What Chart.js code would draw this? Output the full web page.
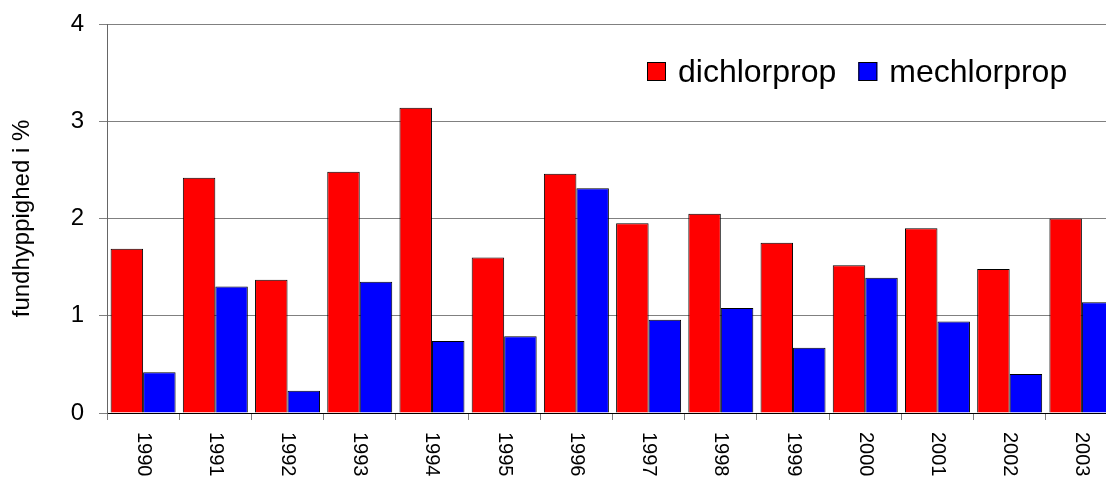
<!DOCTYPE html>
<html>
<head>
<meta charset="utf-8">
<script src="https://cdn.jsdelivr.net/npm/chart.js@4"></script>
<style>
    html, body { margin: 0; padding: 0; background: #fff; overflow: hidden; }
    #wrap { width: 1120px; height: 480px; }
</style>
</head>
<body>
<div id="wrap"><canvas id="plot" width="1120" height="480"></canvas></div>
<script>
'use strict';

// Years on the x axis
const YEARS = [
    "1990", "1991", "1992", "1993", "1994", "1995", "1996",
    "1997", "1998", "1999", "2000", "2001", "2002", "2003"
];

// Detection frequency in %
const DICHLORPROP = [1.69, 2.42, 1.37, 2.48, 3.14, 1.60, 2.46, 1.95, 2.05, 1.75, 1.52, 1.90, 1.48, 2.00];
const MECHLORPROP = [0.42, 1.30, 0.23, 1.35, 0.74, 0.79, 2.31, 0.96, 1.08, 0.67, 1.39, 0.94, 0.40, 1.14];

const Y_TICKS = [0, 1, 2, 3, 4];

const FONT = '"Liberation Sans", Arial, sans-serif';

// Rotated year labels, reading top to bottom
const yearLabels = {
    id: 'yearLabels',
    afterDraw(chart) {
        const ctx = chart.ctx;
        const xs = chart.scales.x;
        ctx.save();
        ctx.font = '20px ' + FONT;
        ctx.fillStyle = '#000';
        ctx.textAlign = 'left';
        ctx.textBaseline = 'middle';
        YEARS.forEach((year, i) => {
            ctx.save();
            ctx.translate(xs.getPixelForValue(i), xs.top + 19);
            ctx.rotate(Math.PI / 2);
            ctx.fillText(year, 0, 0);
            ctx.restore();
        });
        ctx.restore();
    }
};

// Legend sitting inside the plot area, top right
const innerLegend = {
    id: 'innerLegend',
    afterDraw(chart) {
        const ctx = chart.ctx;
        ctx.save();
        ctx.font = '32px ' + FONT;
        ctx.textBaseline = 'middle';
        let x = 647;
        const y = 72;
        chart.data.datasets.forEach((ds) => {
            ctx.fillStyle = ds.backgroundColor;
            ctx.fillRect(x, y - 10, 19, 19);
            ctx.strokeStyle = '#000';
            ctx.lineWidth = 1;
            ctx.strokeRect(x + 0.5, y - 9.5, 18, 18);
            x += 19 + 12;
            ctx.fillStyle = '#000';
            ctx.fillText(ds.label, x, y + 1);
            x += ctx.measureText(ds.label).width + 22;
        });
        ctx.restore();
    }
};

const data = {
    labels: YEARS,
    datasets: [
        {
            label: 'dichlorprop',
            data: DICHLORPROP,
            backgroundColor: '#ff0000',
            borderColor: '#000',
            borderWidth: 1
        },
        {
            label: 'mechlorprop',
            data: MECHLORPROP,
            backgroundColor: '#0000ff',
            borderColor: '#000',
            borderWidth: 1
        }
    ]
};

const config = {
    type: 'bar',
    data: data,
    options: {
        responsive: false,
        animation: false,
        layout: {
            padding: { left: 0, top: 24, right: 2, bottom: 0 }
        },
        datasets: {
            bar: {
                categoryPercentage: 0.9,
                barPercentage: 1.0
            }
        },
        plugins: {
            legend: { display: false },
            tooltip: { enabled: false }
        },
        scales: {
            x: {
                grid: {
                    offset: true,
                    drawOnChartArea: false,
                    drawTicks: true,
                    tickLength: 7,
                    color: '#808080'
                },
                border: { color: '#000', width: 1 },
                ticks: { display: false },
                afterFit(scale) {
                    scale.height = 67;
                }
            },
            y: {
                min: 0,
                max: 4,
                afterBuildTicks(scale) {
                    scale.ticks = Y_TICKS.map(v => ({ value: v }));
                },
                grid: {
                    color: '#808080',
                    tickLength: 8,
                    drawTicks: true
                },
                border: { color: '#666', width: 1 },
                ticks: {
                    font: { family: FONT, size: 24 },
                    color: '#000',
                    padding: 15
                },
                title: {
                    display: true,
                    text: 'fundhyppighed i %',
                    font: { family: FONT, size: 24 },
                    color: '#000',
                    padding: { top: 8, bottom: 0 }
                },
                afterFit(scale) {
                    scale.width = 107;
                    scale.paddingTop = 0;
                }
            }
        }
    },
    plugins: [yearLabels, innerLegend]
};

new Chart(document.getElementById('plot'), config);
</script>
</body>
</html>
